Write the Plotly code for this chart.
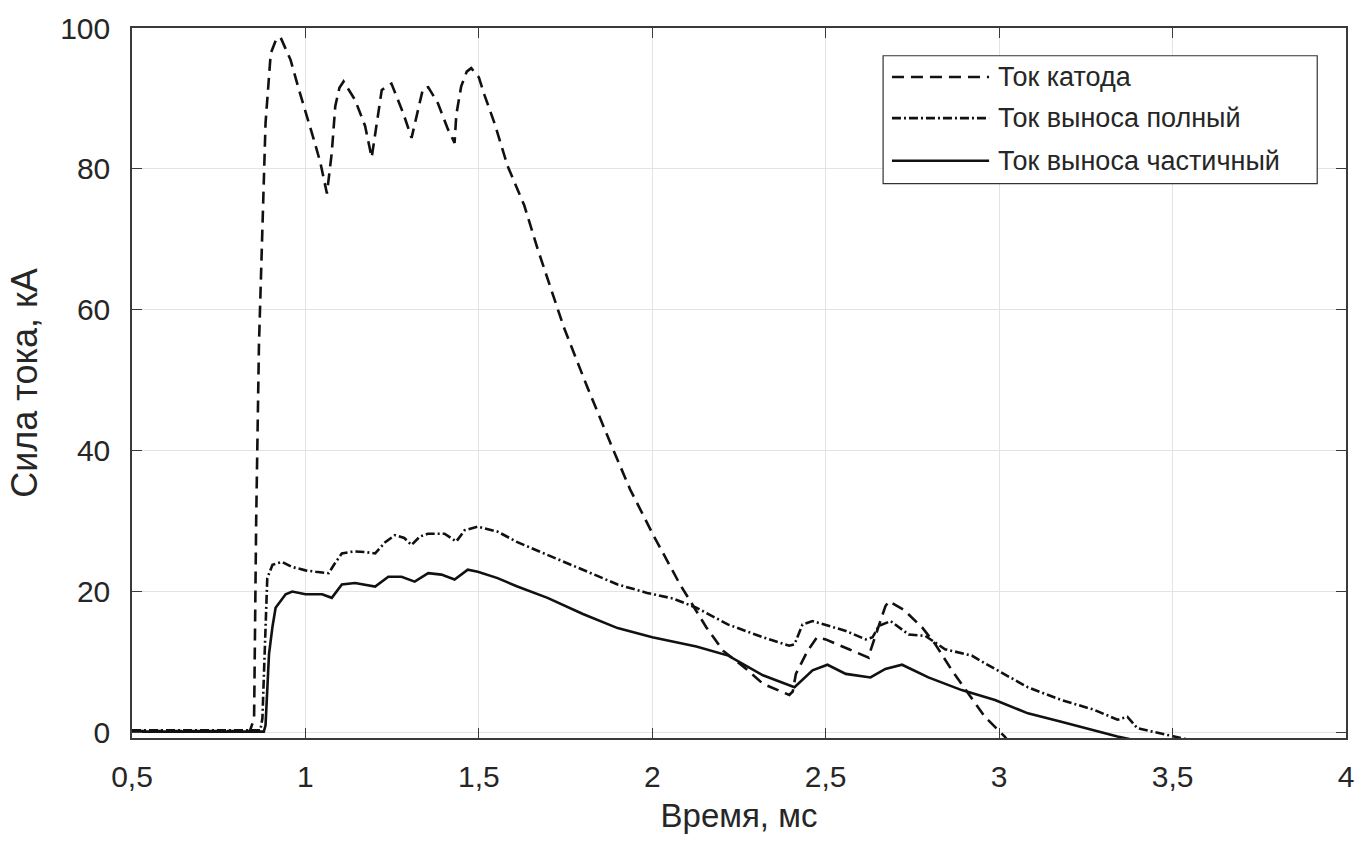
import plotly.graph_objects as go

# Время, мс / Сила тока, кА
cathode_t = [0.5, 0.84, 0.852, 0.858, 0.866, 0.875, 0.885, 0.90, 0.915, 0.928, 0.957, 0.981,
             1.005, 1.024, 1.043, 1.062, 1.076, 1.086, 1.098, 1.110, 1.143, 1.172, 1.191, 1.201,
             1.220, 1.248, 1.282, 1.306, 1.320, 1.339, 1.354, 1.382, 1.411, 1.430, 1.435, 1.449,
             1.465, 1.478, 1.50, 1.516, 1.545, 1.583, 1.631, 1.669, 1.745, 1.812, 1.879, 1.936,
             2.003, 2.08, 2.156, 2.204, 2.271, 2.319, 2.395, 2.405, 2.414, 2.448, 2.475, 2.50,
             2.567, 2.624, 2.629, 2.672, 2.682, 2.725, 2.778, 2.816, 2.864, 2.911, 2.959, 3.016, 3.03]
cathode_i = [0.2, 0.2, 2, 30, 55, 71, 86.5, 96.4, 98.3, 98.7, 95.5, 91.3,
             87.5, 84.2, 80.9, 76.5, 82.3, 88.9, 91.5, 92.4, 89.8, 86.1, 81.6, 84.7,
             91.2, 92.1, 87.9, 84.4, 87.5, 91.4, 91.6, 89.3, 85.6, 83.7, 87.7, 91.7,
             93.8, 94.3, 93.0, 90.5, 86.5, 80.4, 74.8, 68.7, 57.5, 49.1, 41.1, 34.5,
             28.0, 21.0, 14.9, 11.6, 9.0, 6.9, 5.3, 5.8, 8.3, 11.6, 13.5, 13.2,
             11.8, 10.6, 11.6, 17.9, 18.6, 17.4, 14.9, 12.5, 8.8, 5.5, 2.2, -0.6, -1.5]

full_t = [0.5, 0.87, 0.876, 0.882, 0.890, 0.905, 0.933, 0.96, 1.0, 1.03, 1.067, 1.085,
          1.105, 1.14, 1.172, 1.201, 1.23, 1.258, 1.285, 1.306, 1.33, 1.353, 1.401, 1.435,
          1.459, 1.497, 1.554, 1.611, 1.698, 1.80, 1.90, 1.985, 2.06, 2.127, 2.219, 2.319,
          2.395, 2.41, 2.433, 2.462, 2.51, 2.558, 2.615, 2.635, 2.653, 2.687, 2.739, 2.787,
          2.844, 2.921, 2.988, 3.083, 3.179, 3.274, 3.341, 3.37, 3.398, 3.465, 3.503, 3.56]
full_i = [0.3, 0.3, 2, 12, 21.9, 23.8, 24.2, 23.5, 23.0, 22.8, 22.6, 24.0,
          25.4, 25.7, 25.6, 25.4, 27.0, 28.0, 27.6, 26.6, 27.8, 28.2, 28.2, 27.1,
          28.7, 29.2, 28.5, 27.0, 25.2, 23.0, 21.0, 19.8, 19.0, 17.7, 15.3, 13.5,
          12.3, 12.5, 15.3, 15.8, 15.1, 14.4, 13.2, 13.5, 15.1, 15.8, 13.9, 13.7,
          11.8, 10.9, 9.0, 6.4, 4.6, 3.2, 1.8, 2.2, 0.6, -0.1, -0.6, -1.2]

part_t = [0.5, 0.88, 0.885, 0.89, 0.895, 0.905, 0.914, 0.943, 0.962, 1.0, 1.048, 1.076,
          1.105, 1.143, 1.201, 1.239, 1.277, 1.315, 1.354, 1.392, 1.43, 1.468, 1.497, 1.554,
          1.611, 1.698, 1.80, 1.90, 2.0, 2.127, 2.219, 2.319, 2.41, 2.462, 2.505, 2.558,
          2.629, 2.672, 2.72, 2.796, 2.892, 2.988, 3.083, 3.179, 3.274, 3.341, 3.40]
part_i = [0.1, 0.1, 1, 6, 11.1, 15.0, 17.7, 19.6, 20.0, 19.6, 19.6, 19.1,
          21.0, 21.2, 20.7, 22.1, 22.1, 21.4, 22.6, 22.4, 21.7, 23.1, 22.8, 21.9,
          20.7, 19.1, 16.8, 14.8, 13.5, 12.2, 10.9, 8.1, 6.4, 8.8, 9.6, 8.3,
          7.8, 9.0, 9.6, 7.8, 6.0, 4.6, 2.7, 1.5, 0.3, -0.6, -1.2]

series_names = ["Ток катода", "Ток выноса полный", "Ток выноса частичный"]
x_ticks = [0.5, 1, 1.5, 2, 2.5, 3, 3.5, 4]
x_tick_text = ["0,5", "1", "1,5", "2", "2,5", "3", "3,5", "4"]
y_ticks = [0, 20, 40, 60, 80, 100]
y_tick_text = ["0", "20", "40", "60", "80", "100"]

FONT = "Liberation Sans, Arial, sans-serif"
TXT = "#262626"
dashes = ["12px,7px", "9px,3px,2px,3px", "solid"]

fig = go.Figure()
for t, i, name, d in zip([cathode_t, full_t, part_t], [cathode_i, full_i, part_i],
                         series_names, dashes):
    fig.add_trace(go.Scatter(x=t, y=i, mode="lines", name=name, showlegend=False,
                             line=dict(color="#111111", width=2.6, dash=d)))

# legend box drawn in paper coordinates
lx0, lx1, ly0, ly1 = 0.6187, 0.9763, 0.7807, 0.9609
fig.add_shape(type="rect", xref="paper", yref="paper", x0=lx0, x1=lx1, y0=ly0, y1=ly1,
              line=dict(color="#333333", width=1.2), fillcolor="white", layer="above")
rows = [0.931, 0.873, 0.813]
for yy, name, d in zip(rows, series_names, dashes):
    fig.add_shape(type="line", xref="paper", yref="paper", x0=0.626, x1=0.706, y0=yy, y1=yy,
                  line=dict(color="#111111", width=2.6, dash=d), layer="above")
    fig.add_annotation(xref="paper", yref="paper", x=0.7115, y=yy, text=name, showarrow=False,
                       xanchor="left", yanchor="middle", font=dict(family=FONT, size=27, color=TXT))

axis_common = dict(showgrid=True, gridcolor="#e3e3e3", gridwidth=1, zeroline=False,
                   showline=True, linecolor="#3a3a3a", linewidth=1.5, mirror="allticks",
                   ticks="inside", ticklen=10, tickcolor="#3a3a3a", tickwidth=1.2,
                   tickfont=dict(family=FONT, size=30, color=TXT))

fig.update_xaxes(range=[0.5, 4], tickvals=x_ticks, ticktext=x_tick_text,
                 ticklabelstandoff=11,
                 title=dict(text="Время, мс", font=dict(family=FONT, size=33, color=TXT), standoff=12),
                 **axis_common)
fig.update_yaxes(range=[-0.8, 100], tickvals=y_ticks, ticktext=y_tick_text,
                 ticklabelstandoff=14,
                 title=dict(text="Сила тока, кА", font=dict(family=FONT, size=36, color=TXT), standoff=12),
                 **axis_common)

fig.update_layout(width=1365, height=842, margin=dict(l=132, r=11, t=22, b=104),
                  plot_bgcolor="white", paper_bgcolor="white",
                  font=dict(family=FONT, color=TXT))

fig.write_html("out.html")
